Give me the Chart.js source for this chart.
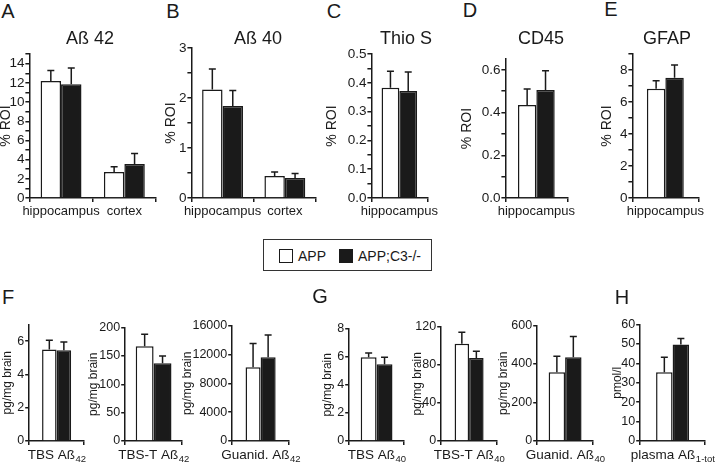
<!DOCTYPE html>
<html>
<head>
<meta charset="utf-8">
<script src="https://cdn.jsdelivr.net/npm/chart.js@4.4.0/dist/chart.umd.min.js"></script>
<style>
  body { margin: 0; width: 720px; height: 466px; overflow: hidden; position: relative; background: #fff;
         font-family: "Liberation Sans", Arial, sans-serif; color: #1a1a1a; }
  canvas { position: absolute; }
  .lbl { position: absolute; white-space: nowrap; transform: translate(-50%, -50%); line-height: 1; }
  .letter { font-size: 20px; }
  .title { font-size: 18px; }
  #legend { position: absolute; left: 263px; top: 239px; width: 169px; height: 32px; border: 1px solid #333;
            font-size: 14px; box-sizing: border-box; }
  #legend span.sq { position: absolute; top: 9px; width: 14px; height: 14px; border: 1.5px solid #1a1a1a; box-sizing: border-box; }
  #legend span.tx { position: absolute; top: 8px; }
</style>
</head>
<body>
<div id="legend">
  <span class="sq" style="left:15px;background:#fff"></span><span class="tx" style="left:34px">APP</span>
  <span class="sq" style="left:75px;background:#1a1a1a"></span><span class="tx" style="left:94px">APP;C3-/-</span>
</div>
<script>
// series: APP (white) and APP;C3-/- (black), mean and SEM
var regionCats = ["hippocampus", "cortex"];
var hippoCats = ["hippocampus"];

var ab42App = [12.2, 2.7],   ab42AppSem = [1.1, 0.55];
var ab42C3 = [11.85, 3.55],  ab42C3Sem = [1.7, 1.1];
var ab40App = [2.17, 0.44],  ab40AppSem = [0.41, 0.08];
var ab40C3 = [1.84, 0.40],   ab40C3Sem = [0.31, 0.09];
var thioApp = [0.383],       thioAppSem = [0.057];
var thioC3 = [0.372],        thioC3Sem = [0.066];
var cd45App = [0.435],       cd45AppSem = [0.075];
var cd45C3 = [0.505],        cd45C3Sem = [0.09];
var gfapApp = [6.83],        gfapAppSem = [0.5];
var gfapC3 = [7.52],         gfapC3Sem = [0.8];

var tbs42App = [5.5],        tbs42AppSem = [0.55];
var tbs42C3 = [5.45],        tbs42C3Sem = [0.5];
var tbst42App = [167],       tbst42AppSem = [21];
var tbst42C3 = [137],        tbst42C3Sem = [13];
var gua42App = [10200],      gua42AppSem = [3300];
var gua42C3 = [11600],       gua42C3Sem = [3100];
var tbs40App = [5.95],       tbs40AppSem = [0.3];
var tbs40C3 = [5.45],        tbs40C3Sem = [0.5];
var tbst40App = [102],       tbst40AppSem = [12];
var tbst40C3 = [87],         tbst40C3Sem = [7];
var gua40App = [357],        gua40AppSem = [83];
var gua40C3 = [435],         gua40C3Sem = [108];
var plasmaApp = [35.4],      plasmaAppSem = [7.7];
var plasmaC3 = [49.7],       plasmaC3Sem = [3.1];

Chart.defaults.font.family = '"Liberation Sans", Arial, sans-serif';
Chart.defaults.color = "#1a1a1a";

var INK = "#1a1a1a";

// draws the upward SEM whisker with a cap on every bar
var errorBars = {
  id: "errorBars",
  afterDatasetsDraw: function(chart) {
    var ctx = chart.ctx, y = chart.scales.y;
    ctx.save();
    ctx.strokeStyle = INK;
    ctx.lineWidth = 1.5;
    chart.data.datasets.forEach(function(ds, i) {
      chart.getDatasetMeta(i).data.forEach(function(bar, j) {
        var top = y.getPixelForValue(ds.data[j] + ds.sem[j]);
        ctx.beginPath();
        ctx.moveTo(bar.x, bar.y);
        ctx.lineTo(bar.x, top);
        ctx.moveTo(bar.x - 3.5, top);
        ctx.lineTo(bar.x + 3.5, top);
        ctx.stroke();
      });
    });
    ctx.restore();
  }
};

// category label with a subscript (Aß42 etc.)
var subLabel = {
  id: "subLabel",
  afterDraw: function(chart, args, opts) {
    if (!opts || !opts.main) return;
    var ctx = chart.ctx, a = chart.chartArea;
    var fam = Chart.defaults.font.family;
    ctx.save();
    ctx.fillStyle = INK;
    ctx.textBaseline = "middle";
    ctx.font = "13.5px " + fam;
    var mw = ctx.measureText(opts.main).width;
    ctx.font = "9.5px " + fam;
    var sw = ctx.measureText(opts.sub).width;
    var x = (a.left + a.right) / 2 - (mw + sw) / 2;
    var y = a.bottom + 14;
    ctx.font = "13.5px " + fam;
    ctx.fillText(opts.main, x, y);
    ctx.font = "9.5px " + fam;
    ctx.fillText(opts.sub, x + mw + 0.5, y + 4);
    ctx.restore();
  }
};

function panel(p) {
  var lh = p.titleSize * 1.2;
  var left = p.titleX - lh / 2;
  var top = p.yTop - 8;
  var w = Math.round(p.xRight - left + p.padR);
  var h = Math.round(p.yZero - top + p.xh);
  var step = p.minor || p.major;
  var ratio = Math.round(p.major / step);
  var nTicks = Math.floor(p.max / step + 1e-6);

  var c = document.createElement("canvas");
  c.width = w; c.height = h;
  c.style.left = left + "px"; c.style.top = top + "px";
  c.style.width = w + "px"; c.style.height = h + "px";
  document.body.appendChild(c);

  new Chart(c, {
    type: "bar",
    data: {
      labels: p.labels,
      datasets: [
        { label: "APP", data: p.app, sem: p.appSem, backgroundColor: "#fff", borderColor: INK, borderWidth: 1.5 },
        { label: "APP;C3-/-", data: p.c3, sem: p.c3Sem, backgroundColor: INK, borderColor: INK, borderWidth: 1.5 }
      ]
    },
    options: {
      responsive: false,
      animation: false,
      events: [],
      layout: { autoPadding: false, padding: { top: 8, right: p.padR, bottom: 0, left: 0 } },
      datasets: { bar: { categoryPercentage: p.cat, barPercentage: 1 } },
      plugins: {
        legend: { display: false },
        tooltip: { enabled: false },
        subLabel: p.sub ? { main: p.sub[0], sub: p.sub[1] } : {}
      },
      scales: {
        x: {
          grid: { drawOnChartArea: false, color: INK, lineWidth: 1.5, tickLength: 4 },
          border: { color: INK, width: 1.5 },
          ticks: { display: !p.sub, font: { size: 13 }, padding: 2, maxRotation: 0, autoSkip: false },
          afterFit: function(s) { s.height = p.xh; }
        },
        y: {
          min: 0, max: p.max,
          grid: { drawOnChartArea: false, color: INK, lineWidth: 1.5, tickLength: 4 },
          border: { color: INK, width: 1.5 },
          ticks: {
            autoSkip: false, padding: 1, font: { size: p.tickSize },
            callback: function(v) {
              var k = Math.round(v / step);
              return k % ratio === 0 ? (k * step).toFixed(p.dec || 0) : "";
            }
          },
          afterBuildTicks: function(s) {
            var t = [];
            for (var k = 0; k <= nTicks; k++) t.push({ value: k * step });
            s.ticks = t;
          },
          title: { display: true, text: p.yTitle, font: { size: p.titleSize }, padding: 0 },
          afterFit: function(s) { s.width = p.xAxis - left; }
        }
      }
    },
    plugins: [errorBars, subLabel]
  });
}

function text(cls, str, x, y) {
  var d = document.createElement("div");
  d.className = "lbl " + cls;
  d.style.left = x + "px"; d.style.top = y + "px";
  d.textContent = str;
  document.body.appendChild(d);
}

var topRow = { yZero: 197.5, xh: 28, titleSize: 14, tickSize: 13.5, padR: 6, yTitle: "% ROI" };
var botRow = { yZero: 441, xh: 26, titleSize: 12, tickSize: 12.5, padR: 34, yTitle: "pg/mg brain" };

function merge(a, b) { var o = {}; for (var k in a) o[k] = a[k]; for (var k2 in b) o[k2] = b[k2]; return o; }

panel(merge(topRow, { labels: regionCats, app: ab42App, appSem: ab42AppSem, c3: ab42C3, c3Sem: ab42C3Sem,
  titleX: 6, xAxis: 29, xRight: 156, yTop: 53, max: 15, major: 2, minor: 1, cat: 0.646 }));
panel(merge(topRow, { labels: regionCats, app: ab40App, appSem: ab40AppSem, c3: ab40C3, c3Sem: ab40C3Sem,
  titleX: 171, xAxis: 191, xRight: 316, yTop: 47, max: 3, major: 1, minor: 0.5, cat: 0.656 }));
panel(merge(topRow, { labels: hippoCats, app: thioApp, appSem: thioAppSem, c3: thioC3, c3Sem: thioC3Sem,
  titleX: 332, xAxis: 371, xRight: 437, yTop: 53, max: 0.5, major: 0.1, minor: 0.05, dec: 1, cat: 0.636 }));
panel(merge(topRow, { labels: hippoCats, app: cd45App, appSem: cd45AppSem, c3: cd45C3, c3Sem: cd45C3Sem,
  titleX: 467, xAxis: 505, xRight: 574, yTop: 58, max: 0.65, major: 0.2, minor: 0.1, dec: 1, cat: 0.594 }));
panel(merge(topRow, { labels: hippoCats, app: gfapApp, appSem: gfapAppSem, c3: gfapC3, c3Sem: gfapC3Sem,
  titleX: 607, xAxis: 632, xRight: 703, yTop: 53, max: 9, major: 2, minor: 1, cat: 0.56 }));

panel(merge(botRow, { labels: ["TBS Aß42"], sub: ["TBS Aß", "42"], app: tbs42App, appSem: tbs42AppSem, c3: tbs42C3, c3Sem: tbs42C3Sem,
  titleX: 7, xAxis: 29, xRight: 84, yTop: 324, max: 7, major: 2, cat: 0.53 }));
panel(merge(botRow, { labels: ["TBS-T Aß42"], sub: ["TBS-T Aß", "42"], app: tbst42App, appSem: tbst42AppSem, c3: tbst42C3, c3Sem: tbst42C3Sem,
  titleX: 93, xAxis: 125, xRight: 182, yTop: 327, max: 200, major: 50, cat: 0.63 }));
panel(merge(botRow, { labels: ["Guanid. Aß42"], sub: ["Guanid. Aß", "42"], app: gua42App, appSem: gua42AppSem, c3: gua42C3, c3Sem: gua42C3Sem,
  titleX: 187, xAxis: 232, xRight: 289, yTop: 325, max: 16000, major: 4000, cat: 0.53 }));
panel(merge(botRow, { labels: ["TBS Aß40"], sub: ["TBS Aß", "40"], app: tbs40App, appSem: tbs40AppSem, c3: tbs40C3, c3Sem: tbs40C3Sem,
  titleX: 327, xAxis: 349, xRight: 404, yTop: 328, max: 8, major: 2, cat: 0.58 }));
panel(merge(botRow, { labels: ["TBS-T Aß40"], sub: ["TBS-T Aß", "40"], app: tbst40App, appSem: tbst40AppSem, c3: tbst40C3, c3Sem: tbst40C3Sem,
  titleX: 417, xAxis: 441, xRight: 497, yTop: 326, max: 120, major: 40, cat: 0.52 }));
panel(merge(botRow, { labels: ["Guanid. Aß40"], sub: ["Guanid. Aß", "40"], app: gua40App, appSem: gua40AppSem, c3: gua40C3, c3Sem: gua40C3Sem,
  titleX: 503, xAxis: 537, xRight: 593, yTop: 325, max: 600, major: 200, cat: 0.59 }));
panel(merge(botRow, { labels: ["plasma Aß1-tot"], sub: ["plasma Aß", "1-tot"], app: plasmaApp, appSem: plasmaAppSem, c3: plasmaC3, c3Sem: plasmaC3Sem,
  yTitle: "pmol/l", titleX: 617, xAxis: 640, xRight: 705, yTop: 324, max: 60, major: 10, cat: 0.51 }));

text("letter", "A", 8, 11);
text("letter", "B", 173, 11);
text("letter", "C", 334, 11);
text("letter", "D", 470, 10);
text("letter", "E", 611, 9);
text("letter", "F", 8, 297);
text("letter", "G", 320, 296);
text("letter", "H", 622, 297);
text("title", "Aß 42", 90, 38);
text("title", "Aß 40", 258, 38);
text("title", "Thio S", 406, 38);
text("title", "CD45", 541, 38);
text("title", "GFAP", 667, 38);
</script>
</body>
</html>
